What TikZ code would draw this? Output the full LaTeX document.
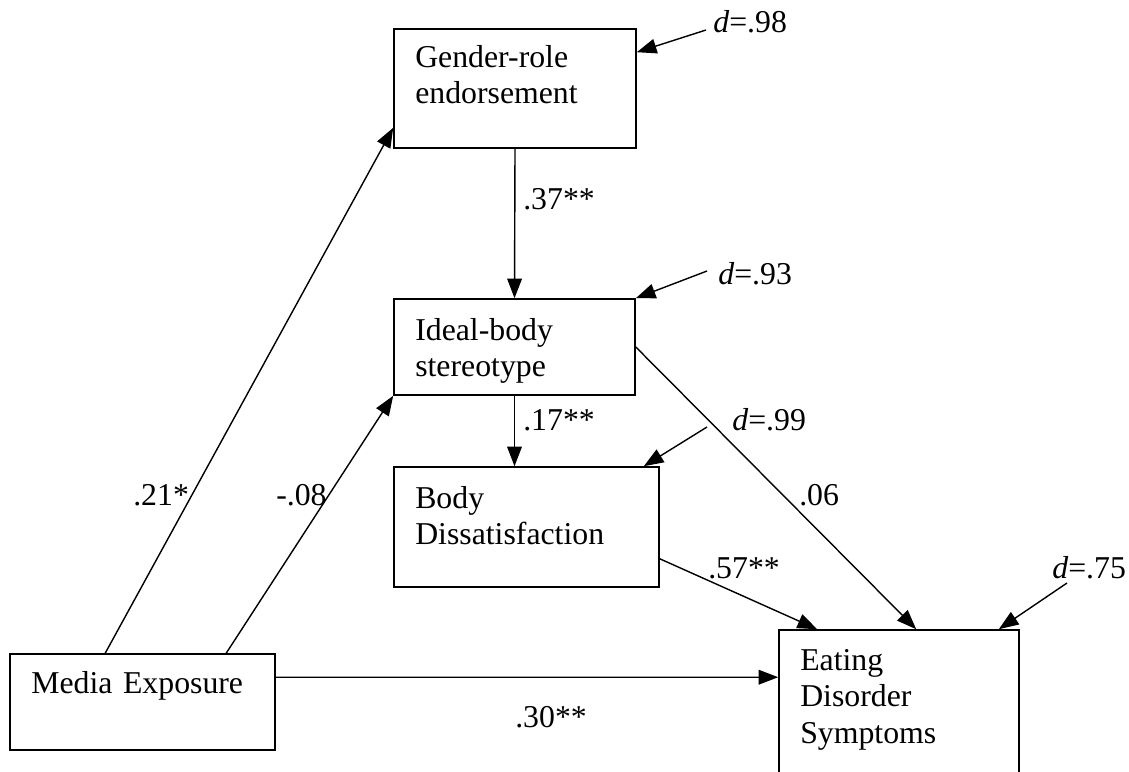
\documentclass[tikz,border=0pt]{standalone}
\usepackage{fontspec}
\setmainfont{Liberation Serif}
\usetikzlibrary{arrows.meta,calc}

\begin{document}
\begin{tikzpicture}[x=0.025cm,y=-0.025cm,
	varbox/.style={shape=rectangle,draw=black,line width=1.1pt,inner sep=0pt},
	vartext/.style={anchor=base west,inner sep=0pt,text width=6cm,align=left,font=\fontsize{22.6}{26}\selectfont},
	coef/.style={anchor=base west,inner sep=0pt,font=\fontsize{22.6}{26}\selectfont},
	eff/.style={-{Triangle[length=14pt,width=10.5pt]},line width=1pt}]
	\clip (0,0) rectangle (1129,771);

	% variables
	\node (gender) at (515,88.5)[varbox,minimum width=6.05cm,minimum height=2.975cm] {};
	\node (ideal) at (514.5,347)[varbox,minimum width=6.025cm,minimum height=2.4cm] {};
	\node (body) at (526.5,527)[varbox,minimum width=6.625cm,minimum height=3cm] {};
	\node (media) at (142.5,702)[varbox,minimum width=6.625cm,minimum height=2.4cm] {};
	\node (eating) at (899,710)[varbox,minimum width=6cm,minimum height=4cm] {};

	\node (gendertxt) at (415,67)[vartext] {Gender-role\\endorsement};
	\node (idealtxt) at (415,340)[vartext] {Ideal-body\\stereotype};
	\node (bodytxt) at (415,508)[vartext] {Body\\Dissatisfaction};
	\node (mediatxt) at (31,693)[vartext] {Media Exposure};
	\node (eatingtxt) at (800,670)[vartext] {Eating\\Disorder\\Symptoms};

	% paths
	\draw[eff] ($(media.north west)+(96,0)$) -- ($(gender.south west)+(0,-21)$);
	\draw[eff] ($(media.north west)+(217,0)$) -- (ideal.south west);
	\draw[eff] ($(media.north east)+(0,24)$) -- ($(eating.north west)+(0,48)$);
	\draw[eff] (gender.south) -- (ideal.north);
	\draw[eff] (ideal.south) -- (ideal.south |- body.north);
	\draw[eff] (ideal.east) -- ($(eating.north west)+(138,0)$);
	\draw[eff] ($(body.south east)+(0,-29)$) -- ($(eating.north west)+(39,0)$);

	\node (c21) at (133,505)[coef] {.21*};
	\node (c08) at (276,505)[coef] {-.08};
	\node (c37) at (523,209)[coef] {.37**};
	\node (c17) at (523,430)[coef] {.17**};
	\node (c06) at (799,505)[coef] {.06};
	\node (c57) at (708,578)[coef] {.57**};
	\node (c30) at (515,727)[coef] {.30**};

	% disturbances
	\coordinate (e98) at (706,30);
	\coordinate (e93) at (707,271);
	\coordinate (e99) at (707,427);
	\coordinate (e75) at (1067,583);
	\draw[eff] (e98) -- ($(gender.north east)+(0,24)$);
	\draw[eff] (e93) -- (ideal.north east);
	\draw[eff] (e99) -- ($(body.north east)+(-16,0)$);
	\draw[eff] (e75) -- ($(eating.north east)+(-21,0)$);

	\node (d98) at (713,32)[coef] {\textit{d}=.98};
	\node (d93) at (718,284)[coef] {\textit{d}=.93};
	\node (d99) at (732,430)[coef] {\textit{d}=.99};
	\node (d75) at (1052,578)[coef] {\textit{d}=.75};
\end{tikzpicture}
\end{document}
